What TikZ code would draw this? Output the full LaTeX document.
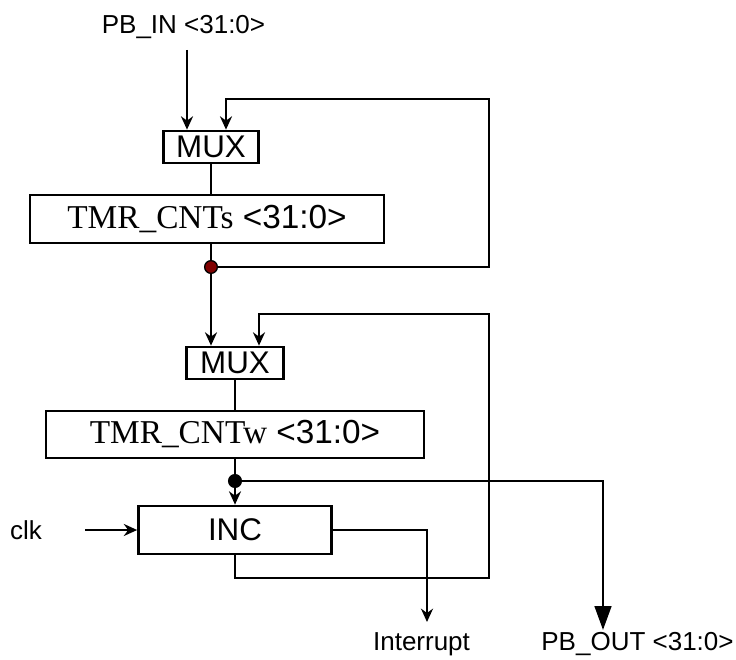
\documentclass[tikz,border=0pt]{standalone}
\usepackage{fontspec}
\setmainfont{Liberation Sans}
\newfontfamily\serifpart{Liberation Serif}
\usetikzlibrary{arrows.meta}
\definecolor{dotred}{RGB}{128,0,0}

\begin{document}
\begin{tikzpicture}[x=0.75pt,y=-0.75pt,line width=2pt,
  box/.style={rectangle,draw,line width=2pt,inner sep=0pt},
  arr/.style={-{Stealth[length=10pt,width=9pt]}},
  bigarr/.style={-{Triangle[length=18pt,width=12.5pt]}},
  dot/.style={circle,draw,line width=1pt,inner sep=0pt,minimum size=9.5pt},
  lbl/.style={anchor=base,font=\fontsize{19.5}{22}\selectfont},
  big/.style={font=\fontsize{23.5}{26}\selectfont},
  reg/.style={font=\fontsize{25}{28}\selectfont}]
\useasboundingbox (0,0) rectangle (736,660);

% blocks
\node (pbin) at (183.5,34) [lbl] {PB\_IN <31:0>};
\node (mux1) at (211,147) [box,big,minimum width=71.25pt,minimum height=24pt] {MUX};
\node (cnts) at (207,219) [box,reg,minimum width=265.5pt,minimum height=36pt] {{\serifpart TMR\_CNTs} <31:0>};
\node (dot1) at (211,267) [dot,fill=dotred] {};
\node (mux2) at (235,363) [box,big,minimum width=72.75pt,minimum height=24pt] {MUX};
\node (cntw) at (235,434.5) [box,reg,minimum width=283.5pt,minimum height=35.25pt] {{\serifpart TMR\_CNTw} <31:0>};
\node (dot2) at (235,481) [dot,fill=black] {};
\node (inc) at (235,530) [box,big,minimum width=144.75pt,minimum height=36pt] {INC};
\node (clk) at (26,539) [lbl] {clk};
\node (intr) at (421.5,650) [lbl] {Interrupt};
\node (pbout) at (637.5,650) [lbl] {PB\_OUT <31:0>};

% wire corners and free ends
\coordinate (in1) at (187,50);
\coordinate (fb1) at (489,99);
\coordinate (fb2) at (489,578);
\coordinate (fb3) at (489,314);
\coordinate (clkin) at (85,530);
\coordinate (intend) at (427,622);
\coordinate (outend) at (603,630);

% wires
\draw[arr] (in1) -- (in1 |- mux1.north);
\draw[arr] (dot1) -| (fb1) -| ([xshift=11.25pt]mux1.north);
\draw (mux1) -- (mux1 |- cnts.north);
\draw (dot1 |- cnts.south) -- (dot1);
\draw[arr] (dot1) -- (dot1 |- mux2.north);
\draw[arr] (inc.south) |- (fb2) -- (fb3) -| ([xshift=18pt]mux2.north);
\draw (mux2) -- (mux2 |- cntw.north);
\draw (cntw) -- (dot2);
\draw[arr] (dot2) -- (inc);
\draw[bigarr] (dot2) -| (outend);
\draw[arr] (clkin) -- (inc);
\draw[arr] (inc.east) -| (intend);
\end{tikzpicture}
\end{document}
